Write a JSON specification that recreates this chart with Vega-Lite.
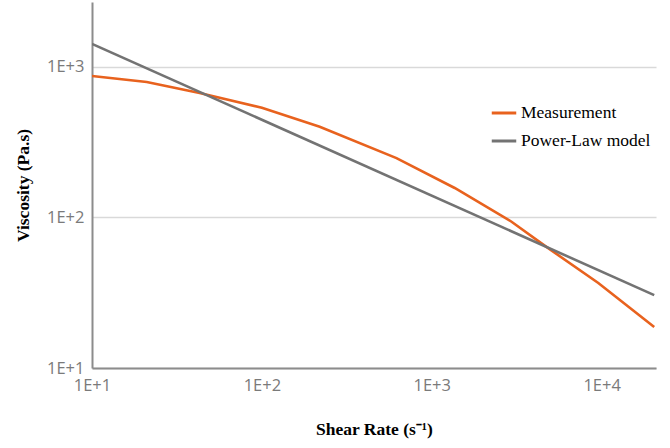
{
  "$schema": "https://vega.github.io/schema/vega-lite/v6.json",
  "autosize": {"type": "none"},
  "width": 564,
  "height": 366,
  "padding": {"left": 92, "top": 2, "right": 14, "bottom": 80},
  "background": "white",
  "data": {
    "values": [
      {"rate": 10, "visc": 871, "series": "Measurement"},
      {"rate": 21, "visc": 795, "series": "Measurement"},
      {"rate": 43, "visc": 671, "series": "Measurement"},
      {"rate": 100, "visc": 535, "series": "Measurement"},
      {"rate": 219, "visc": 400, "series": "Measurement"},
      {"rate": 620, "visc": 248, "series": "Measurement"},
      {"rate": 1365, "visc": 157, "series": "Measurement"},
      {"rate": 2950, "visc": 93.7, "series": "Measurement"},
      {"rate": 4800, "visc": 63, "series": "Measurement"},
      {"rate": 9560, "visc": 36.7, "series": "Measurement"},
      {"rate": 20400, "visc": 18.7, "series": "Measurement"},
      {"rate": 10, "visc": 1422, "series": "Power-Law model"},
      {"rate": 20400, "visc": 30.5, "series": "Power-Law model"}
    ]
  },
  "mark": {"type": "line", "strokeWidth": 2.6, "clip": true},
  "encoding": {
    "x": {
      "field": "rate",
      "type": "quantitative",
      "scale": {"type": "log", "domain": [10, 20900], "nice": false},
      "axis": {
        "values": [10, 100, 1000, 10000],
        "labelExpr": "'1E+' + round(log(datum.value)/LN10)",
        "grid": false,
        "ticks": false,
        "domainColor": "#8c8c8c",
        "domainWidth": 2,
        "labelFont": "Open Sans",
        "labelFontSize": 16.5,
        "labelColor": "#7a7a7a",
        "labelPadding": 9,
        "labelFlush": false,
        "title": "Shear Rate (s⁻¹)",
        "titleFont": "Liberation Serif",
        "titleFontSize": 17.5,
        "titleFontWeight": "bold",
        "titleColor": "#000000",
        "titlePadding": 27
      }
    },
    "y": {
      "field": "visc",
      "type": "quantitative",
      "scale": {"type": "log", "domain": [10, 2700], "nice": false},
      "axis": {
        "values": [10, 100, 1000],
        "labelExpr": "'1E+' + round(log(datum.value)/LN10)",
        "grid": true,
        "gridColor": "#d9d9d9",
        "gridWidth": 1.5,
        "ticks": false,
        "domainColor": "#8c8c8c",
        "domainWidth": 2,
        "labelFont": "Open Sans",
        "labelFontSize": 16.5,
        "labelColor": "#7a7a7a",
        "labelPadding": 8,
        "labelFlush": false,
        "title": "Viscosity (Pa.s)",
        "titleFont": "Liberation Serif",
        "titleFontSize": 17.5,
        "titleFontWeight": "bold",
        "titleColor": "#000000",
        "titlePadding": 14
      }
    },
    "color": {
      "field": "series",
      "type": "nominal",
      "scale": {"domain": ["Measurement", "Power-Law model"], "range": ["#e8621e", "#737373"]},
      "legend": {
        "title": null,
        "orient": "none",
        "legendX": 398,
        "legendY": 97,
        "symbolType": "stroke",
        "symbolStrokeWidth": 3,
        "symbolSize": 600,
        "labelFont": "Liberation Serif",
        "labelFontSize": 17.5,
        "labelColor": "#000000",
        "rowPadding": 5,
        "labelOffset": 3
      }
    }
  },
  "config": {"view": {"stroke": null}}
}
